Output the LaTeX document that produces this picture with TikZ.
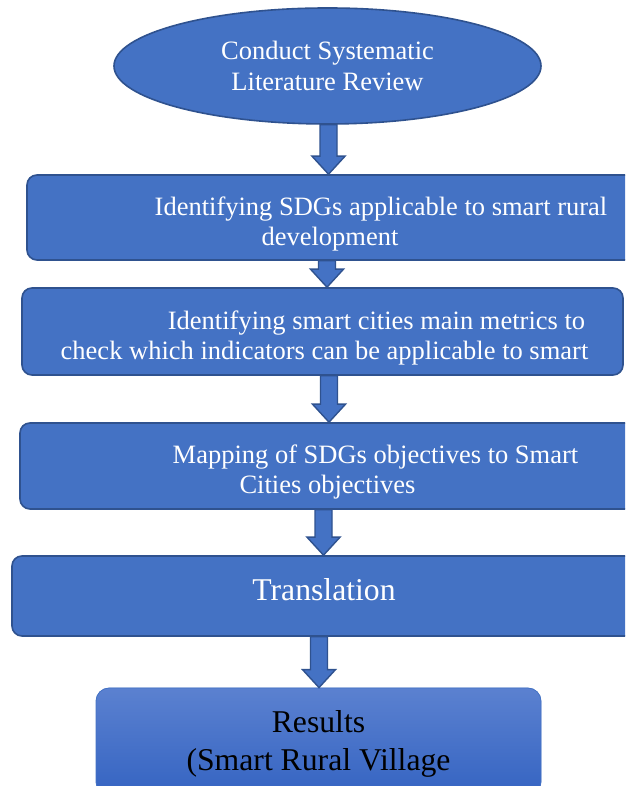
\documentclass[tikz,border=0pt]{standalone}
\usepackage{fontspec}
\setmainfont{Liberation Serif}
\usetikzlibrary{shapes.geometric, calc, positioning}

\definecolor{boxblue}{HTML}{4472C4}
\definecolor{edgeblue}{HTML}{2F528F}
\definecolor{topblue}{HTML}{5B81D0}
\definecolor{lowblue}{HTML}{3564C2}

\tikzset{
  stepbox/.style={draw=edgeblue, fill=boxblue, line width=1.6pt, rounded corners=10pt, inner sep=0pt},
  steptext/.style={text=white, align=center, inner sep=0pt, font=\fontsize{26.5}{30.5}\selectfont},
  bigtext/.style={align=center, inner sep=0pt, font=\fontsize{31.7}{37.5}\selectfont},
  arrowshape/.style={draw=edgeblue, fill=boxblue, line width=1.4pt}
}

\newcommand{\blockarrow}[3]{%
  \draw[arrowshape] let \p1=(#1.south), \p2=(#2.north) in
    (#3pt-8.5pt,\y1) -- (#3pt+8.5pt,\y1) -- (#3pt+8.5pt,\y2+18pt) -- (#3pt+16.5pt,\y2+18pt)
    -- (#3pt,\y2) -- (#3pt-16.5pt,\y2+18pt) -- (#3pt-8.5pt,\y2+18pt) -- cycle;
}

\begin{document}
\begin{tikzpicture}[x=1pt, y=1pt]
  \clip (0,0) rectangle (625,786);
  \fill[white] (0,0) rectangle (625,786);

  \node[ellipse, draw=edgeblue, fill=boxblue, line width=1.6pt, minimum width=427pt, minimum height=116pt,
        steptext] (review) at (327.5,720) {Conduct Systematic\\Literature Review};

  \node[stepbox, minimum width=613pt, minimum height=85pt] (sdgs) at (333.5,568.5) {};
  \node[steptext] (sdgstext) at (330,562) {\hspace*{102pt}Identifying SDGs applicable to smart rural\\development};

  \node[stepbox, minimum width=601pt, minimum height=87pt] (metrics) at (322.5,454.5) {};
  \node[steptext] (metricstext) at (324.5,448) {\hspace*{104pt}Identifying smart cities main metrics to\\check which indicators can be applicable to smart};

  \node[stepbox, minimum width=620pt, minimum height=86pt] (mapping) at (330,320) {};
  \node[steptext] (mappingtext) at (327.5,314) {\hspace*{96pt}Mapping of SDGs objectives to Smart\\Cities objectives};

  \node[stepbox, minimum width=628pt, minimum height=80pt] (translation) at (326,190) {};
  \node[bigtext, text=white, anchor=base] (translationtext) at (324,185) {Translation};

  \node[stepbox, draw=boxblue, line width=0.8pt, top color=topblue, bottom color=lowblue, rounded corners=13pt,
        minimum width=445pt, minimum height=107pt] (results) at (318.5,44.5) {};
  \node[bigtext, text=black] (resultstext) at (318.5,42) {Results\\(Smart Rural Village};

  \blockarrow{review}{sdgs}{328.5}
  \blockarrow{sdgs}{metrics}{327}
  \blockarrow{metrics}{mapping}{329}
  \blockarrow{mapping}{translation}{323.5}
  \blockarrow{translation}{results}{319}
\end{tikzpicture}
\end{document}
